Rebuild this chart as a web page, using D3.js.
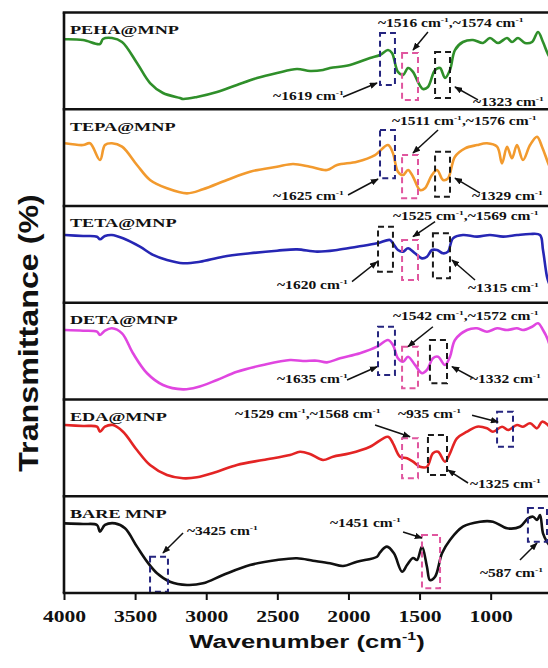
<!DOCTYPE html>
<html>
<head>
<meta charset="utf-8">
<script src="https://cdn.jsdelivr.net/npm/d3@7"></script>
<style>
  html, body { margin: 0; padding: 0; background: #fff; }
  svg { display: block; }
</style>
</head>
<body>
<svg id="chart" width="548" height="668"></svg>
<script>
// ---- data -------------------------------------------------------------
const panelNames  = ["PEHA@MNP", "TEPA@MNP", "TETA@MNP", "DETA@MNP", "EDA@MNP", "BARE MNP"];
const panelColors = ["#2f8f2a", "#f29a2e", "#2626b4", "#e046e0", "#e32424", "#111111"];
const xTicks = [4000, 3500, 3000, 2500, 2000, 1500, 1000];

// [wavenumber (cm-1), relative transmittance within the panel]
const pehaSpectrum = [[3993,72.3],[3866,71.6],[3747,67.4],[3726,72.6],[3663,73.6],[3592,69.5],[3487,47.8],[3395,27.1],[3304,16.8],[3184,11.6],[3163,10.6],[3065,12.7],[2924,17.8],[2784,25.1],[2643,32.3],[2502,37.5],[2362,41.6],[2270,39.5],[2179,40.6],[2130,42.6],[1989,45.7],[1848,53.0],[1778,56.1],[1722,61.2],[1694,58.2],[1652,38.6],[1616,35.4],[1581,42.6],[1546,38.6],[1511,28.2],[1476,21.0],[1441,23.0],[1391,40.6],[1356,42.6],[1321,32.3],[1286,40.6],[1251,61.2],[1195,69.5],[1124,71.6],[1054,68.5],[1005,73.6],[948,68.5],[885,73.6],[850,69.5],[808,73.6],[759,68.5],[709,69.5],[667,79.8],[632,69.5],[604,59.2],[590,55.0]];
const tepaSpectrum = [[3993,64.8],[3866,63.0],[3817,64.8],[3747,47.5],[3712,63.0],[3663,64.8],[3592,61.3],[3487,42.4],[3395,26.9],[3276,18.3],[3135,13.1],[3023,17.3],[2854,26.9],[2692,35.5],[2502,40.6],[2390,43.4],[2270,40.6],[2151,37.2],[2080,42.4],[1940,45.8],[1813,52.7],[1722,63.0],[1687,54.5],[1652,35.5],[1616,32.0],[1581,37.2],[1546,30.3],[1497,16.5],[1462,18.3],[1413,32.0],[1377,37.2],[1335,26.9],[1300,28.6],[1251,51.0],[1180,59.6],[1096,63.0],[1026,64.8],[955,61.3],[920,44.1],[885,61.3],[850,49.3],[815,63.0],[773,47.5],[723,63.0],[674,71.6],[639,61.3],[604,47.5],[590,42.0]];
const tetaSpectrum = [[3993,70.0],[3866,69.0],[3768,68.3],[3747,65.6],[3712,69.0],[3663,70.0],[3585,66.6],[3466,57.9],[3374,49.4],[3276,44.2],[3163,40.8],[3044,42.4],[2882,47.6],[2692,51.1],[2502,53.8],[2362,55.2],[2221,52.8],[2080,54.5],[1940,57.9],[1799,61.4],[1708,64.9],[1687,61.4],[1652,54.5],[1616,52.8],[1581,56.3],[1532,51.1],[1483,45.9],[1448,47.6],[1413,54.5],[1377,54.5],[1335,51.1],[1300,52.8],[1265,66.6],[1195,70.0],[1096,68.3],[1005,70.0],[913,68.3],[815,70.0],[723,71.1],[653,70.0],[632,54.5],[604,26.9],[590,20.0]];
const detaSpectrum = [[3993,71.8],[3866,71.1],[3768,70.1],[3747,66.7],[3712,71.1],[3663,73.6],[3592,68.4],[3515,47.8],[3416,27.1],[3304,15.0],[3163,10.5],[3065,12.6],[2924,20.2],[2784,28.7],[2601,35.7],[2411,40.8],[2320,39.8],[2221,40.1],[2151,38.4],[2059,42.6],[1919,47.8],[1799,54.6],[1722,61.5],[1687,56.3],[1652,42.6],[1616,39.1],[1581,44.2],[1532,35.7],[1483,27.1],[1448,30.5],[1406,42.6],[1370,44.2],[1321,35.7],[1286,44.2],[1251,61.5],[1166,71.8],[1096,73.6],[1026,70.1],[955,73.6],[885,71.8],[815,73.6],[773,71.8],[709,75.2],[667,78.8],[632,71.8],[597,61.5],[590,58.0]];
const edaSpectrum  = [[3993,73.6],[3866,72.6],[3768,71.9],[3747,66.7],[3712,71.9],[3655,73.6],[3585,66.7],[3487,47.8],[3395,32.3],[3276,22.0],[3163,18.6],[3065,19.6],[2924,25.4],[2784,32.3],[2601,37.5],[2411,42.6],[2341,46.0],[2270,43.7],[2179,37.5],[2109,40.9],[1989,44.4],[1848,51.2],[1722,61.5],[1687,54.7],[1638,40.9],[1588,39.2],[1546,35.7],[1497,30.5],[1448,30.5],[1406,44.4],[1370,46.0],[1321,35.7],[1286,44.4],[1237,59.9],[1166,66.7],[1096,71.9],[1026,70.2],[984,66.7],[920,71.9],[878,68.5],[815,73.6],[773,71.9],[723,75.4],[674,70.2],[639,77.1],[597,73.6],[590,72.0]];
const bareSpectrum = [[3993,72.0],[3866,71.3],[3768,70.3],[3747,63.4],[3712,70.3],[3641,72.0],[3571,66.9],[3487,47.9],[3416,32.4],[3346,20.4],[3255,11.7],[3135,8.3],[3023,10.0],[2882,18.6],[2692,28.9],[2502,34.1],[2362,35.9],[2249,33.4],[2130,30.7],[2038,27.9],[1940,32.4],[1799,37.5],[1778,42.0],[1729,47.9],[1680,41.0],[1623,22.0],[1588,28.9],[1546,36.2],[1518,34.1],[1483,47.9],[1448,27.2],[1427,13.4],[1391,16.8],[1342,41.0],[1286,54.8],[1195,68.5],[1075,73.7],[984,73.7],[885,66.9],[794,68.5],[738,77.2],[702,78.9],[674,75.5],[653,80.6],[632,61.7],[604,53.0],[590,50.0]];
const spectra = [pehaSpectrum, tepaSpectrum, tetaSpectrum, detaSpectrum, edaSpectrum, bareSpectrum];

// dashed highlight boxes: [panel, wn left, wn right, top, bottom, colour key]
const peakBoxes = [
  [0,1778,1673,78.8,25.1,"navy"],[0,1623,1511,58.1,9.6,"pink"],[0,1391,1286,59.2,11.6,"black"],
  [1,1778,1673,78.6,28.6,"navy"],[1,1623,1511,52.7,8.0,"pink"],[1,1391,1286,56.1,9.6,"black"],
  [2,1792,1687,78.6,32.1,"black"],[2,1623,1511,64.9,23.5,"pink"],[2,1406,1286,71.8,25.3,"black"],
  [3,1792,1673,75.2,25.3,"navy"],[3,1623,1511,54.6,11.6,"pink"],[3,1427,1307,61.5,16.7,"black"],
  [4,1623,1511,59.9,18.6,"pink"],[4,1441,1307,63.3,22.0,"black"],[4,955,843,87.4,51.2,"navy"],
  [5,3395,3269,37.5,1.3,"navy"],[5,1483,1356,59.9,4.9,"pink"],[5,738,604,87.9,53.0,"navy"]
];
const boxColors = { navy: "#25257f", pink: "#e0569f", black: "#1a1a1a" };

// peak labels: [panel, wn at text start, baseline level, text ({..} = superscript)]
const peakLabels = [
  [0,1792,85.0,"~1516 cm{-1},~1574 cm{-1}"],[0,2530,9.6,"~1619 cm{-1}"],[0,1124,3.4,"~1323 cm{-1}"],
  [1,1694,83.7,"~1511 cm{-1},~1576 cm{-1}"],[1,2530,6.2,"~1625 cm{-1}"],[1,1131,6.2,"~1329 cm{-1}"],
  [2,1687,85.5,"~1525 cm{-1},~1569 cm{-1}"],[2,2502,14.2,"~1620 cm{-1}"],[2,1159,11.4,"~1315 cm{-1}"],
  [3,1687,82.2,"~1542 cm{-1},~1572 cm{-1}"],[3,2502,17.1,"~1635 cm{-1}"],[3,1145,17.1,"~1332 cm{-1}"],
  [4,2798,80.9,"~1529 cm{-1},~1568 cm{-1}"],[4,1652,80.9,"~935 cm{-1}"],[4,1145,8.5,"~1325 cm{-1}"],
  [5,3135,59.9,"~3425 cm{-1}"],[5,2130,68.2,"~1451 cm{-1}"],[5,1075,16.5,"~587 cm{-1}"]
];

// pointer arrows: [panel, wn from, level from, wn to, level to]
const peakArrows = [
  [0,1441,79.8,1546,61.2],[0,2038,12.7,1799,27.1],[0,1089,9.6,1251,23.0],
  [1,1370,78.6,1546,54.8],[1,2003,11.4,1792,27.9],[1,1075,13.4,1251,28.9],
  [2,1391,83.8,1546,68.3],[2,1975,21.8,1799,42.4],[2,1110,23.5,1272,44.2],
  [3,1406,75.2,1581,54.6],[3,2010,20.2,1799,33.9],[3,1124,22.2,1272,33.9],
  [4,1813,73.6,1567,61.5],[4,1131,83.7,948,76.8],[4,1159,13.7,1300,27.1],
  [5,3163,62.0,3304,41.3],[5,1616,63.0,1483,56.8],[5,794,34.1,674,51.7]
];

// ---- layout -------------------------------------------------------------
const SERIF = "'Liberation Serif', 'Times New Roman', serif";
const SANS = "'Liberation Sans', Arial, sans-serif";
const STRETCH = 1.35;             // horizontal text stretch used throughout
const plotTop = 12.5, plotBottom = 593;

const svg = d3.select("#chart");
const x = d3.scaleLinear().domain([4000, 400]).range([64, 576]);
const band = d3.scaleBand().domain(d3.range(6)).range([plotTop, plotBottom]).paddingInner(0).paddingOuter(0);
const yFor = i => d3.scaleLinear().domain([0, 100]).range([band(i) + band.bandwidth(), band(i)]);
const yScales = d3.range(6).map(yFor);

svg.append("defs").append("marker")
  .attr("id", "arrowHead")
  .attr("viewBox", "0 0 10 8")
  .attr("refX", 9).attr("refY", 4)
  .attr("markerWidth", 8).attr("markerHeight", 6.5)
  .attr("markerUnits", "userSpaceOnUse")
  .attr("orient", "auto")
  .append("path").attr("d", "M0,0 L10,4 L0,8 Z").attr("fill", "#111");

// spectra
const line = d3.line().curve(d3.curveCatmullRom.alpha(0.5));
spectra.forEach((data, i) => {
  const y = yScales[i];
  svg.append("path")
    .attr("d", line.x(d => x(d[0])).y(d => y(d[1]))(data))
    .attr("fill", "none")
    .attr("stroke", panelColors[i])
    .attr("stroke-width", 2.6)
    .attr("stroke-linejoin", "round");
});

// dashed boxes
svg.append("g").selectAll("rect").data(peakBoxes).join("rect")
  .attr("x", d => x(d[1]))
  .attr("y", d => yScales[d[0]](d[3]))
  .attr("width", d => x(d[2]) - x(d[1]))
  .attr("height", d => yScales[d[0]](d[4]) - yScales[d[0]](d[3]))
  .attr("fill", "none")
  .attr("stroke", d => boxColors[d[5]])
  .attr("stroke-width", 2)
  .attr("stroke-dasharray", "6,4");

// arrows
svg.append("g").selectAll("line").data(peakArrows).join("line")
  .attr("x1", d => x(d[1])).attr("y1", d => yScales[d[0]](d[2]))
  .attr("x2", d => x(d[3])).attr("y2", d => yScales[d[0]](d[4]))
  .attr("stroke", "#111").attr("stroke-width", 1.5)
  .attr("marker-end", "url(#arrowHead)");

// text with {superscript} parts, stretched horizontally
function richText(parent, px, py, str, size, family, anchor) {
  const t = parent.append("text")
    .attr("transform", `translate(${px},${py}) scale(${STRETCH},1)`)
    .attr("font-family", family)
    .attr("font-weight", "bold")
    .attr("font-size", size)
    .attr("text-anchor", anchor || "start")
    .attr("fill", "#111");
  const parts = str.split(/\{([^}]*)\}/);
  let raised = false;
  parts.forEach((p, k) => {
    if (p === "") return;
    const sup = k % 2 === 1;
    const ts = t.append("tspan").text(p);
    if (sup) {
      ts.attr("font-size", size * 0.62).attr("dy", -size * 0.42);
      raised = true;
    } else if (raised) {
      ts.attr("dy", size * 0.42);
      raised = false;
    }
  });
  return t;
}

const labelLayer = svg.append("g");
peakLabels.forEach(d => {
  richText(labelLayer, x(d[1]), yScales[d[0]](d[2]), d[3], 11.5, SERIF);
});

// panel names
panelNames.forEach((name, i) => {
  richText(labelLayer, x(3958), yScales[i](78), name, 13.5, SERIF);
});

// frame and panel separators
const frame = svg.append("g").attr("stroke", "#111").attr("stroke-width", 2.6);
d3.range(7).forEach(k => {
  const yy = k < 6 ? band(k) : plotBottom;
  frame.append("line").attr("x1", x(4000) - 1.3).attr("x2", x(400)).attr("y1", yy).attr("y2", yy);
});
frame.append("line").attr("x1", x(4000)).attr("x2", x(4000)).attr("y1", plotTop).attr("y2", plotBottom);

// x axis
const axis = svg.append("g")
  .attr("transform", `translate(0,${plotBottom})`)
  .call(d3.axisBottom(x).tickValues(xTicks).tickSize(7).tickSizeOuter(0).tickFormat(d3.format("d")));
axis.select(".domain").remove();
axis.selectAll(".tick line").attr("stroke", "#111").attr("stroke-width", 2);
axis.selectAll(".tick text")
  .attr("y", 29).attr("dy", 0)
  .attr("transform", `scale(${STRETCH},1)`)
  .attr("font-family", SERIF).attr("font-weight", "bold").attr("font-size", 16)
  .attr("fill", "#111");

// axis titles
richText(svg, 307, 648, "Wavenumber (cm{-1})", 19, SANS, "middle");

svg.append("text")
  .attr("transform", "translate(38,333) rotate(-90) scale(1.29,1.1)")
  .attr("text-anchor", "middle")
  .attr("font-family", SANS).attr("font-weight", "bold").attr("font-size", 25)
  .attr("fill", "#111")
  .text("Transmittance (%)");
</script>
</body>
</html>
